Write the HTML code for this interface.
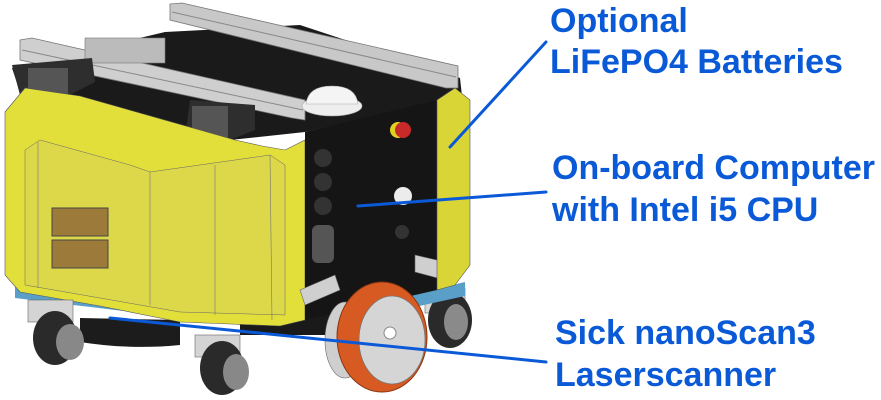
<!DOCTYPE html>
<html><head><meta charset="utf-8"><style>
html,body{margin:0;padding:0;background:#fff;}
svg{display:block;}
text{font-family:"Liberation Sans",Arial,sans-serif;font-weight:bold;fill:#0a5ad8;}
</style></head><body>
<svg width="881" height="400" viewBox="0 0 881 400" xmlns="http://www.w3.org/2000/svg">
<g>
<rect x="425" y="288" width="40" height="25" fill="#d8d8d8" stroke="#666" stroke-width="0.6"/>
<ellipse cx="450" cy="320" rx="22" ry="28" fill="#2a2a2a"/>
<ellipse cx="456" cy="322" rx="12" ry="18" fill="#8a8a8a"/>
</g>
<polygon points="12,68 165,32 300,25 460,78 462,96 305,132 230,140 20,92" fill="#1a1a1a"/>
<polygon points="170,4 182,3 458,66 458,88 446,88 170,20" fill="#c8c8c8" stroke="#777" stroke-width="0.8"/>
<line x1="172" y1="12" x2="456" y2="77" stroke="#888" stroke-width="1"/>
<polygon points="20,40 32,38 305,100 305,120 292,118 20,60" fill="#cfcfcf" stroke="#777" stroke-width="0.8"/>
<line x1="22" y1="50" x2="303" y2="110" stroke="#888" stroke-width="1"/>
<rect x="85" y="38" width="80" height="25" fill="#bbb" stroke="#777" stroke-width="0.6"/>
<polygon points="12,65 92,58 95,82 60,100 20,95" fill="#2e2e2e"/>
<rect x="28" y="68" width="40" height="26" fill="#555"/>
<polygon points="190,100 255,105 255,130 225,142 185,138" fill="#2e2e2e"/>
<rect x="192" y="106" width="36" height="32" fill="#555"/>
<ellipse cx="332" cy="106" rx="30" ry="10" fill="#eee" stroke="#aaa" stroke-width="0.6"/>
<path d="M306,104 Q308,86 332,86 Q356,86 358,104 Z" fill="#f4f4f4" stroke="#aaa" stroke-width="0.6"/>
<polygon points="15,285 300,318 440,288 465,282 465,296 300,332 15,298" fill="#5a9fc8"/>
<path d="M80,318 L180,320 L180,345 Q130,350 80,342 Z" fill="#1c1c1c"/>
<rect x="240" y="310" width="100" height="25" fill="#1a1a1a"/>
<polygon points="5,112 25,88 80,96 200,130 235,140 262,146 285,150 305,140 305,320 280,326 180,322 100,306 20,292 5,275" fill="#e3df3a" stroke="#555" stroke-width="0.6"/>
<polygon points="25,150 40,140 130,165 150,172 235,160 270,155 285,165 285,315 180,312 100,298 25,285" fill="#dcd84a" stroke="#666" stroke-width="0.5"/>
<line x1="150" y1="172" x2="150" y2="305" stroke="#777" stroke-width="0.6"/>
<line x1="215" y1="165" x2="215" y2="315" stroke="#777" stroke-width="0.6"/>
<line x1="270" y1="155" x2="272" y2="320" stroke="#777" stroke-width="0.6"/>
<line x1="38" y1="142" x2="38" y2="288" stroke="#777" stroke-width="0.6"/>
<rect x="52" y="208" width="56" height="28" fill="#9c7b3a" stroke="#444" stroke-width="1"/>
<rect x="52" y="240" width="56" height="28" fill="#9c7b3a" stroke="#444" stroke-width="1"/>
<polygon points="305,132 437,100 437,290 305,320" fill="#151515"/>
<circle cx="323" cy="158" r="9" fill="#333"/><circle cx="323" cy="182" r="9" fill="#333"/><circle cx="323" cy="206" r="9" fill="#333"/>
<rect x="312" y="225" width="22" height="38" rx="6" fill="#555"/>
<circle cx="398" cy="130" r="8" fill="#e0d020"/><circle cx="403" cy="130" r="8" fill="#c82a2a"/>
<circle cx="403" cy="196" r="9" fill="#ececec"/>
<circle cx="402" cy="232" r="7" fill="#333"/>
<polygon points="300,290 335,275 340,290 305,305" fill="#cfcfcf" stroke="#666" stroke-width="0.6"/>
<polygon points="415,255 445,262 445,280 415,272" fill="#cfcfcf" stroke="#666" stroke-width="0.6"/>
<polygon points="437,100 455,88 470,100 470,265 455,285 437,290" fill="#d9d536" stroke="#555" stroke-width="0.6"/>
<rect x="28" y="300" width="45" height="22" fill="#d4d4d4" stroke="#666" stroke-width="0.6"/>
<ellipse cx="55" cy="338" rx="22" ry="27" fill="#2a2a2a"/>
<ellipse cx="70" cy="342" rx="14" ry="18" fill="#888"/>
<rect x="195" y="335" width="45" height="22" fill="#d4d4d4" stroke="#666" stroke-width="0.6"/>
<ellipse cx="222" cy="368" rx="22" ry="27" fill="#2a2a2a"/>
<ellipse cx="236" cy="372" rx="13" ry="18" fill="#888"/>
<ellipse cx="345" cy="340" rx="20" ry="38" fill="#cfcfcf" stroke="#666" stroke-width="0.6"/>
<ellipse cx="382" cy="337" rx="45" ry="55" fill="#d65a22" stroke="#8a3510" stroke-width="1"/>
<ellipse cx="392" cy="340" rx="33" ry="44" fill="#d5d5d5" stroke="#777" stroke-width="0.8"/>
<circle cx="390" cy="333" r="6" fill="#fff" stroke="#888"/>
<g stroke="#0a5ad8" stroke-width="3" stroke-linecap="round">
<line x1="450" y1="147" x2="546" y2="42"/>
<line x1="358" y1="206" x2="546" y2="192"/>
<line x1="110" y1="318" x2="546" y2="362"/>
</g>
<text x="550" y="32" font-size="34">Optional</text>
<text x="550" y="73" font-size="34">LiFePO4 Batteries</text>
<text x="552" y="179" font-size="34">On-board Computer</text>
<text x="552" y="221" font-size="34">with Intel i5 CPU</text>
<text x="555" y="344" font-size="34">Sick nanoScan3</text>
<text x="555" y="386" font-size="34">Laserscanner</text>
</svg>
</body></html>
